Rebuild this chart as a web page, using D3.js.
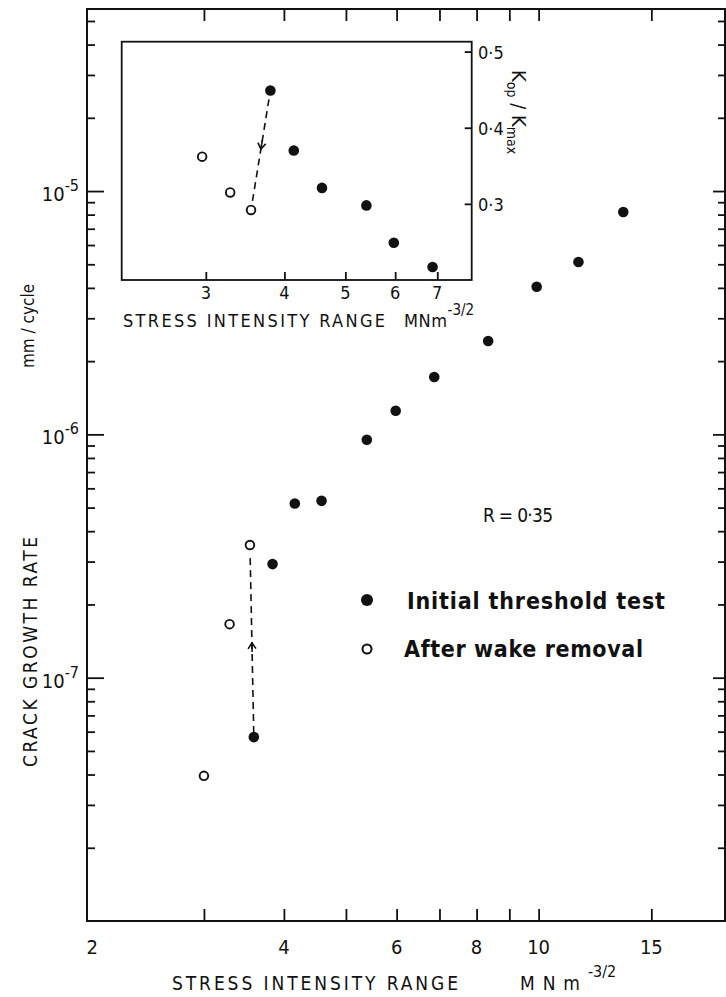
<!DOCTYPE html>
<html><head><meta charset="utf-8">
<script src="https://cdn.jsdelivr.net/npm/d3@7"></script>
<style>
body{margin:0;background:#fff}
svg{display:block}
text{font-family:"DejaVu Sans Condensed","DejaVu Sans",sans-serif;fill:#111}
</style></head><body>
<svg id="c" width="726" height="997"></svg>
<script>
// Crack growth rate (mm/cycle) against stress intensity range, R = 0.35
const initialDK   = [3.59, 3.84, 4.16, 4.58, 5.39, 5.98, 6.87, 8.34, 9.93, 11.54, 13.56];
const initialRate = [5.7e-8, 2.93e-7, 5.2e-7, 5.33e-7, 9.5e-7, 1.25e-6, 1.72e-6, 2.42e-6, 4.04e-6, 5.11e-6, 8.2e-6];
const wakeDK      = [3.00, 3.29, 3.54];
const wakeRate    = [3.95e-8, 1.66e-7, 3.51e-7];

// Inset: closure ratio Kop/Kmax against stress intensity range
const insetInitialDK = [3.80, 4.14, 4.59, 5.40, 5.97, 6.88];
const insetInitialK  = [0.449, 0.370, 0.321, 0.298, 0.249, 0.217];
const insetWakeDK    = [2.96, 3.28, 3.54];
const insetWakeK     = [0.362, 0.315, 0.292];

// Tick values and labels
const xTicks      = [3, 4, 5, 6, 7, 8, 9, 10, 15];
const xTickLabels = [2, 4, 6, 8, 10, 15];
const yMajor      = [1e-7, 1e-6, 1e-5];
const yMajorExp   = ["-7", "-6", "-5"];
const insetXTicks = [3, 4, 5, 6, 7];
const insetYTicks = [0.3, 0.4, 0.5];
const insetYLabels = ["0·3", "0·4", "0·5"];

const svg = d3.select("#c");
const ink = "#111";

// ---------- main panel ----------
const x = d3.scaleLog().domain([1.97, 19.55]).range([87, 725]);
const y = d3.scaleLog().domain([1e-8, 5.6e-5]).range([921, 9]);

const yMinor = [];
for (let e = -8; e <= -5; e++) for (let m = 2; m <= 9; m++) {
  const v = m * Math.pow(10, e);
  if (v < y.domain()[1]) yMinor.push(v);
}

function strip(g) { g.select(".domain").remove(); g.selectAll("line").attr("stroke", ink).attr("stroke-width", 1.8); g.selectAll("text").remove(); }

svg.append("g").attr("transform", "translate(0,921)")
  .call(d3.axisBottom(x).tickValues(xTicks).tickSize(-12)).call(strip);
svg.append("g").attr("transform", "translate(0,9)")
  .call(d3.axisTop(x).tickValues(xTicks).tickSize(-12)).call(strip);
svg.append("g").attr("transform", "translate(87,0)")
  .call(d3.axisLeft(y).tickValues(yMajor).tickSize(-17)).call(strip);
svg.append("g").attr("transform", "translate(87,0)")
  .call(d3.axisLeft(y).tickValues(yMinor).tickSize(-8)).call(strip);
svg.append("g").attr("transform", "translate(725,0)")
  .call(d3.axisRight(y).tickValues(yMajor).tickSize(-12)).call(strip);
svg.append("g").attr("transform", "translate(725,0)")
  .call(d3.axisRight(y).tickValues(yMinor).tickSize(-7)).call(strip);

svg.append("rect").attr("x", 87).attr("y", 9).attr("width", 638).attr("height", 912)
  .attr("fill", "none").attr("stroke", ink).attr("stroke-width", 2);

// x tick labels
svg.append("g").selectAll("text").data(xTickLabels).join("text")
  .attr("x", d => x(Math.max(d, x.domain()[0])) + (d === 2 ? 1 : 0))
  .attr("y", 954).attr("text-anchor", "middle").attr("font-size", 20)
  .text(d => d);

// y tick labels 10^n
const yl = svg.append("g").selectAll("text").data(yMajor).join("text")
  .attr("x", 79).attr("y", d => y(d) + 10).attr("text-anchor", "end").attr("font-size", 20);
yl.append("tspan").text("10");
yl.append("tspan").attr("dy", -10).attr("font-size", 16).text((d, i) => yMajorExp[i]);

// axis titles
svg.append("text").attr("x", 172).attr("y", 990).attr("font-size", 19)
  .attr("textLength", 286).attr("lengthAdjust", "spacing").text("STRESS INTENSITY RANGE");
const xu = svg.append("text").attr("x", 520).attr("y", 990).attr("font-size", 19);
xu.append("tspan").attr("textLength", 60).attr("lengthAdjust", "spacing").text("MNm");
xu.append("tspan").attr("dy", -13).attr("font-size", 16).text("-3/2");

svg.append("text").attr("transform", "translate(37,652) rotate(-90)")
  .attr("text-anchor", "middle").attr("font-size", 19)
  .attr("textLength", 230).attr("lengthAdjust", "spacing").text("CRACK GROWTH RATE");
svg.append("text").attr("transform", "translate(34,326) rotate(-90)")
  .attr("text-anchor", "middle").attr("font-size", 17).text("mm / cycle");

svg.append("text").attr("x", 483).attr("y", 522).attr("font-size", 19)
  .attr("textLength", 70).attr("lengthAdjust", "spacing").text("R = 0·35");

// dashed transition with arrowhead
function dashedArrow(p0, p1, trim0, trim1, t, sw) {
  const dx = p1[0] - p0[0], dy = p1[1] - p0[1], L = Math.hypot(dx, dy);
  const ux = dx / L, uy = dy / L;
  svg.append("line")
    .attr("x1", p0[0] + ux * trim0).attr("y1", p0[1] + uy * trim0)
    .attr("x2", p1[0] - ux * trim1).attr("y2", p1[1] - uy * trim1)
    .attr("stroke", ink).attr("stroke-width", sw).attr("stroke-dasharray", "7,5");
  const tip = [p0[0] + dx * t, p0[1] + dy * t];
  const a = Math.atan2(uy, ux), s = 7, w = 0.6;
  const b1 = [tip[0] - s * Math.cos(a - w), tip[1] - s * Math.sin(a - w)];
  const b2 = [tip[0] - s * Math.cos(a + w), tip[1] - s * Math.sin(a + w)];
  svg.append("path").attr("d", `M${b1}L${tip}L${b2}M${tip}L${tip[0] - ux * 9},${tip[1] - uy * 9}`)
    .attr("fill", "none").attr("stroke", ink).attr("stroke-width", sw);
}
dashedArrow([x(initialDK[0]), y(initialRate[0])], [x(wakeDK[2]), y(wakeRate[2])], 4, 9, 0.49, 1.6);

// points
svg.append("g").selectAll("circle").data(initialDK).join("circle")
  .attr("cx", d => x(d)).attr("cy", (d, i) => y(initialRate[i])).attr("r", 5.3).attr("fill", ink);
svg.append("g").selectAll("circle").data(wakeDK).join("circle")
  .attr("cx", d => x(d)).attr("cy", (d, i) => y(wakeRate[i])).attr("r", 4.3)
  .attr("fill", "#fff").attr("stroke", ink).attr("stroke-width", 1.9);

// legend
svg.append("circle").attr("cx", 367).attr("cy", 600).attr("r", 6).attr("fill", ink);
svg.append("circle").attr("cx", 367).attr("cy", 649).attr("r", 4.5).attr("fill", "#fff")
  .attr("stroke", ink).attr("stroke-width", 2);
svg.append("text").attr("x", 407).attr("y", 609).attr("font-size", 23).attr("font-weight", "bold")
  .attr("textLength", 258).attr("lengthAdjust", "spacing").text("Initial  threshold test");
svg.append("text").attr("x", 404).attr("y", 657).attr("font-size", 23).attr("font-weight", "bold")
  .attr("textLength", 239).attr("lengthAdjust", "spacing").text("After wake removal");

// ---------- inset ----------
const xi = d3.scaleLog().domain([2.205, 7.94]).range([121.7, 471.7]);
const yi = d3.scaleLinear().domain([0.2, 0.513]).range([280, 41.7]);

svg.append("rect").attr("x", 121.7).attr("y", 41.7).attr("width", 350).attr("height", 238.3)
  .attr("fill", "#fff").attr("stroke", ink).attr("stroke-width", 1.8);
svg.append("g").attr("transform", "translate(0,280)")
  .call(d3.axisBottom(xi).tickValues(insetXTicks).tickSize(-8)).call(strip);
svg.append("g").attr("transform", "translate(471.7,0)")
  .call(d3.axisRight(yi).tickValues(insetYTicks).tickSize(-7)).call(strip);

svg.append("g").selectAll("text").data(insetXTicks).join("text")
  .attr("x", d => xi(d)).attr("y", 299).attr("text-anchor", "middle").attr("font-size", 18).text(d => d);
svg.append("g").selectAll("text").data(insetYTicks).join("text")
  .attr("x", 478).attr("y", d => yi(d) + 7).attr("font-size", 18).text((d, i) => insetYLabels[i]);

svg.append("text").attr("x", 123).attr("y", 327).attr("font-size", 18)
  .attr("textLength", 262).attr("lengthAdjust", "spacing").text("STRESS INTENSITY RANGE");
const iu = svg.append("text").attr("x", 404).attr("y", 327).attr("font-size", 18);
iu.append("tspan").attr("textLength", 43).attr("lengthAdjust", "spacing").text("MNm");
iu.append("tspan").attr("dy", -12).attr("font-size", 15).text("-3/2");

const kl = svg.append("text").attr("transform", "translate(512,70) rotate(90)").attr("font-size", 20);
kl.append("tspan").text("K");
kl.append("tspan").attr("dy", 5).attr("font-size", 14).text("op");
kl.append("tspan").attr("dy", -5).text(" / K");
kl.append("tspan").attr("dy", 5).attr("font-size", 14).text("max");

dashedArrow([xi(insetInitialDK[0]), yi(insetInitialK[0])], [xi(insetWakeDK[2]), yi(insetWakeK[2])], 9, 9, 0.49, 1.6);

svg.append("g").selectAll("circle").data(insetInitialDK).join("circle")
  .attr("cx", d => xi(d)).attr("cy", (d, i) => yi(insetInitialK[i])).attr("r", 5.3).attr("fill", ink);
svg.append("g").selectAll("circle").data(insetWakeDK).join("circle")
  .attr("cx", d => xi(d)).attr("cy", (d, i) => yi(insetWakeK[i])).attr("r", 4.3)
  .attr("fill", "#fff").attr("stroke", ink).attr("stroke-width", 1.9);
</script>
</body></html>
